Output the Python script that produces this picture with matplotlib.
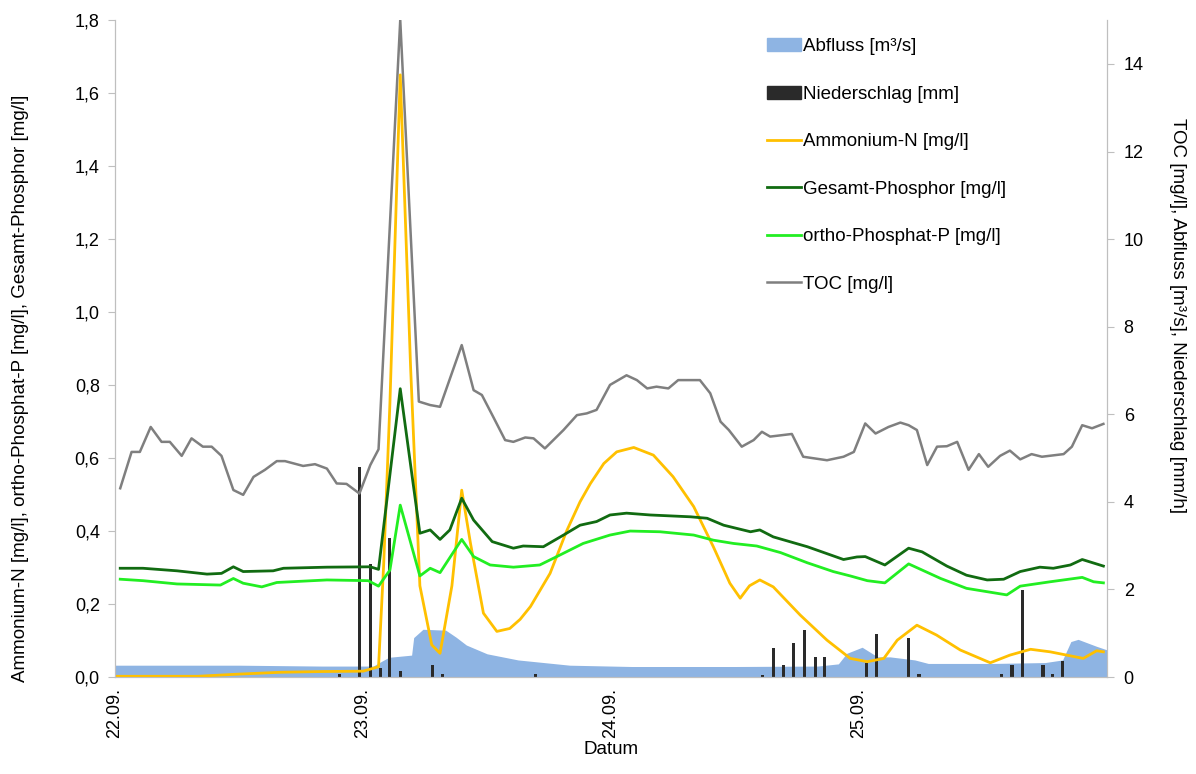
import numpy as np
import matplotlib.pyplot as plt
from matplotlib.patches import Patch
from matplotlib.lines import Line2D

plt.rcParams['font.family'] = ['Liberation Sans', 'DejaVu Sans']

# hours since 22.09. 00:00
toc_h = [0.5, 1.6, 2.4, 3.45, 4.5, 5.3, 6.45, 7.4, 8.5, 9.35, 10.3, 11.45, 12.4, 13.4, 14.5,
         15.65, 16.45, 18.2, 19.35, 20.5, 21.45, 22.4, 23.65, 24.7, 25.5, 27.6, 29.4, 30.5,
         31.45, 33.55, 34.7, 35.5, 36.6, 37.75, 38.55, 39.7, 40.5, 41.6, 43.4, 44.7, 45.65,
         46.6, 47.9, 49.5, 50.5, 51.5, 52.4, 53.55, 54.5, 56.6, 57.6, 58.6, 59.4, 60.65,
         61.8, 62.6, 63.4, 65.5, 66.6, 68.9, 70.5, 71.5, 72.6, 73.6, 74.85, 76.0, 76.8,
         77.6, 78.6, 79.55, 80.5, 81.5, 82.6, 83.6, 84.5, 85.65, 86.6, 87.6, 88.7, 89.7,
         91.8, 92.6, 93.6, 94.55, 95.65]
toc = [4.31, 5.14, 5.14, 5.71, 5.37, 5.37, 5.05, 5.45, 5.26, 5.26, 5.05, 4.27, 4.16, 4.57, 4.73,
       4.93, 4.93, 4.82, 4.86, 4.76, 4.42, 4.41, 4.19, 4.84, 5.2, 15.0, 6.29, 6.21,
       6.17, 7.58, 6.55, 6.44, 5.94, 5.41, 5.37, 5.47, 5.45, 5.22, 5.64, 5.98, 6.02,
       6.10, 6.67, 6.89, 6.78, 6.59, 6.63, 6.59, 6.78, 6.78, 6.48, 5.83, 5.64, 5.26,
       5.41, 5.60, 5.49, 5.55, 5.03, 4.95, 5.03, 5.14, 5.79, 5.56, 5.71, 5.81, 5.75,
       5.64, 4.84, 5.26, 5.27, 5.37, 4.73, 5.09, 4.80, 5.05, 5.17, 4.97, 5.09, 5.03,
       5.09, 5.26, 5.75, 5.68, 5.78]

gp_h = [0.5, 2.7, 6.0, 8.9, 10.3, 11.45, 12.4, 15.3, 16.3, 20.5, 24.7, 25.5, 27.6, 29.5,
        30.5, 31.45, 32.4, 33.55, 34.7, 36.5, 38.55, 39.5, 41.45, 43.4, 45.0, 46.6, 47.9,
        49.5, 51.8, 55.7, 57.3, 58.9, 61.5, 62.4, 63.7, 67.0, 70.5, 71.8, 72.6, 74.5,
        76.8, 78.1, 80.5, 82.4, 84.4, 86.0, 87.6, 89.5, 90.8, 92.45, 93.6, 95.65]
gp = [0.298, 0.298, 0.291, 0.282, 0.284, 0.302, 0.289, 0.291, 0.298, 0.301, 0.302, 0.295, 0.79, 0.394,
      0.403, 0.377, 0.403, 0.49, 0.43, 0.371, 0.353, 0.359, 0.357, 0.389, 0.416, 0.426, 0.444,
      0.449, 0.444, 0.439, 0.435, 0.416, 0.398, 0.403, 0.384, 0.357, 0.322, 0.329, 0.33, 0.307,
      0.353, 0.343, 0.304, 0.279, 0.266, 0.268, 0.289, 0.301, 0.298, 0.307, 0.322, 0.304]

op_h = [0.5, 2.7, 6.0, 10.2, 11.45, 12.4, 14.2, 15.65, 20.5, 24.5, 25.5, 26.6, 27.6, 29.5,
        30.5, 31.45, 33.55, 34.7, 36.3, 38.55, 41.1, 42.75, 45.3, 47.9, 49.85, 52.75, 56.0,
        57.9, 59.85, 62.1, 64.4, 67.0, 69.5, 71.15, 72.8, 74.5, 76.8, 79.9, 82.4, 86.3,
        87.6, 90.5, 93.6, 94.7, 95.65]
op = [0.268, 0.264, 0.255, 0.252, 0.27, 0.257, 0.247, 0.259, 0.266, 0.264, 0.249, 0.293, 0.471, 0.277,
      0.298, 0.286, 0.377, 0.33, 0.307, 0.301, 0.307, 0.33, 0.366, 0.389, 0.40, 0.398, 0.389,
      0.375, 0.366, 0.359, 0.341, 0.313, 0.289, 0.277, 0.264, 0.258, 0.31, 0.27, 0.243, 0.225,
      0.249, 0.261, 0.273, 0.261, 0.258]

nh4_h = [0, 8, 12, 16, 20, 24, 25.5, 26.0, 26.6, 27.6, 28.6, 29.5, 30.65, 31.45, 32.6, 33.55,
         34.4, 35.65, 36.95, 38.2, 39.2, 40.2, 42.1, 43.7, 45.0, 46.0, 47.3, 48.55, 50.2,
         52.1, 54.0, 56.0, 57.9, 59.5, 60.5, 61.4, 62.4, 63.7, 66.3, 68.9, 71.15, 72.8,
         74.4, 75.7, 77.6, 79.5, 81.8, 84.7, 86.6, 88.6, 90.5, 93.7, 95.0, 95.65]
nh4 = [0.002, 0.002, 0.008, 0.013, 0.015, 0.016, 0.028, 0.31, 0.75, 1.65, 0.85, 0.25, 0.088, 0.065, 0.25, 0.512,
       0.366, 0.175, 0.125, 0.133, 0.158, 0.193, 0.284, 0.40, 0.48, 0.53, 0.585, 0.617, 0.629,
       0.608, 0.549, 0.467, 0.357, 0.257, 0.216, 0.25, 0.266, 0.247, 0.17, 0.101, 0.051, 0.042,
       0.051, 0.101, 0.142, 0.115, 0.074, 0.039, 0.06, 0.076, 0.069, 0.051, 0.072, 0.069]

q_h = [0, 12, 20, 25.0, 25.5, 26.5, 28.7, 28.9, 29.8, 32.0, 33.0, 34.0, 36.0, 39.0, 44.0, 50.0,
       60.0, 68.0, 70.0, 70.8, 72.3, 73.8, 75.0, 77.4, 78.7, 85.0, 90.0, 91.7, 92.5, 93.2, 95.0, 96.0]
q = [0.27, 0.27, 0.25, 0.25, 0.32, 0.45, 0.5, 0.9, 1.09, 1.07, 0.91, 0.73, 0.53, 0.39, 0.27, 0.24,
     0.24, 0.25, 0.3, 0.54, 0.68, 0.46, 0.46, 0.39, 0.31, 0.31, 0.33, 0.39, 0.81, 0.86, 0.7, 0.62]

rain_h = [21.7, 23.65, 24.7, 25.65, 26.6, 27.65, 30.7, 31.7, 40.7, 62.7, 63.7, 64.7, 65.7, 66.7,
          67.75, 68.7, 72.7, 73.7, 76.8, 77.8, 85.8, 86.8, 87.8, 89.8, 90.7, 91.7]
rain = [0.07, 4.8, 2.58, 0.2, 3.17, 0.14, 0.27, 0.07, 0.07, 0.05, 0.66, 0.27, 0.77, 1.07,
        0.46, 0.46, 0.33, 0.98, 0.88, 0.07, 0.07, 0.27, 1.99, 0.27, 0.07, 0.37]

day_ticks = [0, 24, 48, 72]
day_labels = ['22.09.', '23.09.', '24.09.', '25.09.']
left_ticks = [0, 0.2, 0.4, 0.6, 0.8, 1.0, 1.2, 1.4, 1.6, 1.8]
right_ticks = [0, 2, 4, 6, 8, 10, 12, 14]

c_q = '#8eb4e3'
c_rain = '#2a2a2a'
c_nh4 = '#ffc000'
c_gp = '#116b11'
c_op = '#22ee22'
c_toc = '#7f7f7f'
axc = '#bfbfbf'

fig = plt.figure(figsize=(11.96, 7.74), dpi=100)
ax = fig.add_axes([0.0962, 0.1253, 0.8294, 0.8487])
ax2 = ax.twinx()
ax.set_zorder(ax2.get_zorder() + 1)
ax.patch.set_visible(False)

ax2.fill_between(q_h, q, 0, color=c_q, lw=0)
ax2.bar(rain_h, rain, width=0.3, color=c_rain)
ax2.plot(toc_h, toc, color=c_toc, lw=1.8)

ax.plot(nh4_h, nh4, color=c_nh4, lw=2)
ax.plot(gp_h, gp, color=c_gp, lw=2)
ax.plot(op_h, op, color=c_op, lw=2)

ax.set_xlim(0, 96)
ax.set_ylim(0, 1.8)
ax2.set_ylim(0, 15)

ax.set_xticks(day_ticks)
ax.set_xticklabels(day_labels, rotation=90, fontsize=13)
ax.tick_params(axis='x', length=0, pad=8)
ax.set_yticks(left_ticks)
ax.set_yticklabels([f'{v:.1f}'.replace('.', ',') for v in left_ticks], fontsize=13)
ax.tick_params(axis='y', length=5, color=axc, pad=6)
ax2.set_yticks(right_ticks)
ax2.set_yticklabels([str(v) for v in right_ticks], fontsize=13)
ax2.tick_params(axis='y', length=5, color=axc, pad=7)

for a in (ax, ax2):
    for s in a.spines.values():
        s.set_color(axc)
    a.spines['top'].set_visible(False)

ax.set_xlabel('Datum', fontsize=13.5, labelpad=2)
ax.set_ylabel('Ammonium-N [mg/l], ortho-Phosphat-P [mg/l], Gesamt-Phosphor [mg/l]', fontsize=13.5)
ax.yaxis.set_label_coords(-0.087, 0.44)
ax2.set_ylabel('TOC [mg/l], Abfluss [m³/s], Niederschlag [mm/h]', fontsize=13.5, rotation=270)
ax2.yaxis.set_label_coords(1.08, 0.55)

handles = [Patch(color=c_q), Patch(color=c_rain),
           Line2D([], [], color=c_nh4, lw=2), Line2D([], [], color=c_gp, lw=2),
           Line2D([], [], color=c_op, lw=2), Line2D([], [], color=c_toc, lw=1.8)]
labels = ['Abfluss [m³/s]', 'Niederschlag [mm]', 'Ammonium-N [mg/l]',
          'Gesamt-Phosphor [mg/l]', 'ortho-Phosphat-P [mg/l]', 'TOC [mg/l]']
ax.legend(handles, labels, loc='upper left', bbox_to_anchor=(0.64, 0.998), frameon=False,
          fontsize=13.5, labelspacing=1.62, handlelength=1.85, handletextpad=0.1)

fig.savefig('out.png', dpi=100)
